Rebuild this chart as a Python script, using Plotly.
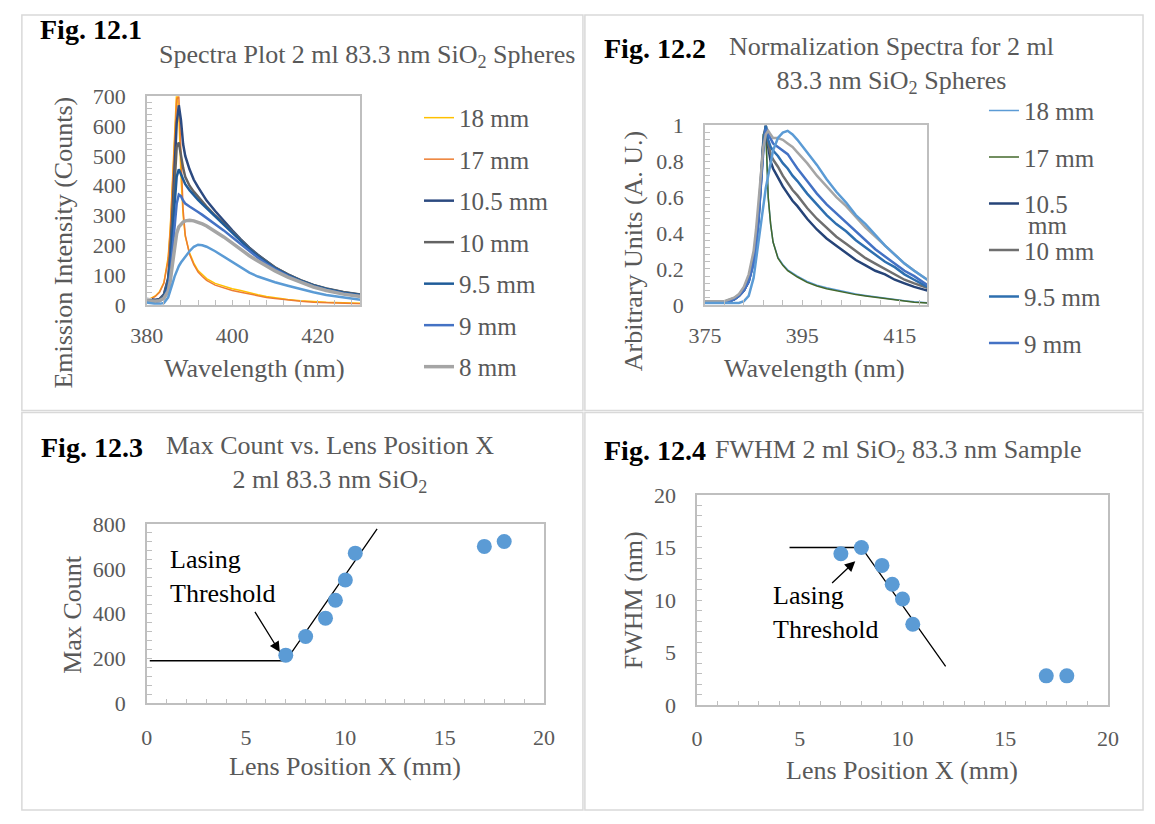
import plotly.graph_objects as go

FONT = "Liberation Serif"
GRAY_TXT = "#595959"

# ---------------- Fig 12.1 : spectra (counts) ----------------
W1 = [380, 381, 382, 383, 384, 385, 385.5, 386, 386.5, 387, 387.5, 388, 388.5, 389, 390, 391, 392, 393, 394,
      396, 398, 400, 402, 404, 406, 408, 410, 413, 416, 419, 422, 426, 430]
C_18 = [18, 22, 30, 45, 75, 160, 260, 420, 600, 722, 640, 430, 300, 230, 175, 140, 115, 100, 88,
        72, 62, 54, 48, 40, 34, 28, 23, 18, 14, 11, 9, 7, 5]
C_17 = [16, 20, 28, 42, 72, 150, 250, 400, 580, 690, 700, 470, 320, 235, 170, 135, 110, 95, 82,
        66, 56, 48, 42, 36, 30, 25, 21, 16, 12, 9, 7, 5, 4]
C_105 = [20, 18, 17, 20, 35, 90, 170, 300, 470, 610, 670, 620, 540, 500, 455, 420, 395, 370, 350,
         315, 282, 250, 220, 192, 168, 145, 125, 102, 82, 66, 54, 42, 34]
C_10 = [18, 16, 15, 18, 32, 85, 160, 280, 420, 530, 545, 500, 460, 430, 400, 380, 362, 345, 330,
        300, 272, 243, 215, 190, 166, 145, 126, 102, 83, 67, 55, 43, 35]
C_95 = [15, 14, 13, 15, 28, 75, 140, 240, 350, 430, 455, 440, 420, 405, 385, 368, 352, 338, 324,
        296, 268, 240, 212, 187, 163, 142, 123, 100, 81, 65, 53, 41, 33]
C_9 = [12, 11, 10, 12, 22, 55, 105, 180, 270, 340, 370, 365, 350, 340, 330, 322, 312, 302, 292,
       272, 250, 227, 203, 180, 158, 138, 120, 97, 78, 62, 50, 38, 30]
C_8 = [14, 13, 12, 14, 22, 45, 80, 135, 195, 240, 262, 272, 278, 282, 284, 282, 278, 272, 265,
       248, 228, 207, 185, 165, 147, 130, 114, 93, 75, 60, 48, 36, 28]
C_7 = [8, 5, 3, 3, 6, 25, 45, 70, 95, 115, 130, 142, 152, 162, 180, 195, 202, 200, 195,
       180, 162, 145, 127, 108, 95, 85, 76, 64, 52, 42, 33, 24, 17]

# ---------------- Fig 12.2 : normalized spectra ----------------
W2 = [375, 377, 379, 380, 381, 382, 383, 384, 385, 385.5, 386, 386.5, 387, 387.5, 388, 388.5, 389, 390,
      391, 392, 393, 394, 396, 398, 400, 402, 404, 406, 408, 410, 412, 414, 416, 418, 420, 420.7]
N_18 = [0.02, 0.02, 0.02, 0.03, 0.04, 0.055, 0.09, 0.14, 0.26, 0.36, 0.5, 0.7, 0.95, 0.98, 0.6, 0.45, 0.35, 0.265,
        0.225, 0.195, 0.175, 0.16, 0.13, 0.11, 0.095, 0.082, 0.07, 0.06, 0.052, 0.044, 0.036, 0.029, 0.023, 0.017, 0.012, 0.011]
N_17 = [0.02, 0.02, 0.02, 0.03, 0.04, 0.055, 0.09, 0.14, 0.26, 0.36, 0.5, 0.7, 0.95, 0.98, 0.6, 0.45, 0.35, 0.26,
        0.22, 0.19, 0.17, 0.155, 0.125, 0.105, 0.09, 0.078, 0.066, 0.057, 0.049, 0.041, 0.034, 0.027, 0.021, 0.015, 0.01, 0.01]
N_105 = [0.02, 0.02, 0.02, 0.02, 0.03, 0.05, 0.08, 0.13, 0.24, 0.33, 0.47, 0.66, 0.88, 1.0, 0.88, 0.8, 0.76, 0.71,
         0.66, 0.62, 0.58, 0.55, 0.48, 0.42, 0.37, 0.33, 0.29, 0.25, 0.22, 0.19, 0.17, 0.14, 0.12, 0.1, 0.085, 0.08]
N_10 = [0.02, 0.02, 0.02, 0.02, 0.03, 0.05, 0.08, 0.14, 0.26, 0.36, 0.5, 0.7, 0.92, 1.0, 0.9, 0.84, 0.81, 0.77,
        0.72, 0.68, 0.64, 0.61, 0.54, 0.48, 0.43, 0.38, 0.34, 0.3, 0.26, 0.23, 0.2, 0.17, 0.14, 0.12, 0.1, 0.095]
N_95 = [0.02, 0.02, 0.02, 0.02, 0.03, 0.05, 0.08, 0.13, 0.24, 0.34, 0.48, 0.68, 0.9, 1.0, 0.92, 0.88, 0.86, 0.83,
        0.79, 0.76, 0.72, 0.69, 0.62, 0.56, 0.5, 0.45, 0.41, 0.36, 0.32, 0.28, 0.24, 0.21, 0.17, 0.14, 0.11, 0.1]
N_9 = [0.02, 0.02, 0.02, 0.02, 0.03, 0.05, 0.08, 0.13, 0.23, 0.33, 0.47, 0.66, 0.86, 0.98, 0.95, 0.92, 0.9, 0.88,
       0.86, 0.84, 0.8, 0.76, 0.69, 0.62, 0.56, 0.51, 0.46, 0.41, 0.36, 0.31, 0.27, 0.23, 0.19, 0.16, 0.12, 0.11]
N_8 = [0.02, 0.02, 0.02, 0.03, 0.04, 0.06, 0.1, 0.17, 0.3, 0.42, 0.58, 0.75, 0.88, 0.95, 0.97, 0.95, 0.93, 0.93,
       0.92, 0.9, 0.88, 0.85, 0.79, 0.72, 0.66, 0.6, 0.55, 0.49, 0.43, 0.38, 0.33, 0.28, 0.23, 0.19, 0.15, 0.14]
N_7 = [0.01, 0.01, 0.01, 0.01, 0.01, 0.01, 0.02, 0.05, 0.15, 0.25, 0.36, 0.48, 0.58, 0.65, 0.72, 0.8, 0.86, 0.93,
       0.96, 0.97, 0.95, 0.92, 0.85, 0.78, 0.7, 0.63, 0.57, 0.5, 0.45, 0.39, 0.33, 0.28, 0.23, 0.19, 0.15, 0.14]

# ---------------- Fig 12.3 / 12.4 : lens position data ----------------
LENS_X = [7, 8, 9, 9.5, 10, 10.5, 17, 18]
MAX_COUNT = [215, 298, 380, 460, 550, 670, 700, 722]
FWHM = [14.4, 15.0, 13.3, 11.5, 10.1, 7.7, 2.8, 2.8]
FIT3_X = [0.15, 7, 11.6]
FIT3_Y = [190, 190, 778]
FIT4_X = [4.5, 8, 12.1]
FIT4_Y = [15, 15, 3.7]

W, H = 1155, 824
TITLE_SIZE = 26
LEG_SIZE = 25
TICK_SIZE = 22


def PX(x):
    return x / W


def PY(y):
    return 1 - y / H


fig = go.Figure()

series1 = [
    ("18 mm", C_18, "#FFC000", 1.5, True),
    ("17 mm", C_17, "#ED7D31", 1.5, True),
    ("10.5 mm", C_105, "#2C4A80", 2.5, True),
    ("10 mm", C_10, "#636363", 2.5, True),
    ("9.5 mm", C_95, "#1F5C99", 2.5, True),
    ("9 mm", C_9, "#4472C4", 2.5, True),
    ("8 mm", C_8, "#A5A5A5", 3.5, True),
    ("7 mm", C_7, "#5B9BD5", 2.5, False),
]
for i, (nm, vals, col, lw, sl) in enumerate(series1):
    fig.add_trace(go.Scatter(x=W1, y=vals, mode="lines", name=nm, line=dict(color=col, width=lw),
                             xaxis="x", yaxis="y", legend="legend", showlegend=sl,
                             legendgroup=("a%d" % i) if sl else None))

series2 = [
    ("18 mm", N_18, "#5B9BD5", 1.5, True),
    ("17 mm", N_17, "#43682B", 1.5, True),
    ("10.5", N_105, "#264478", 2.5, True),
    ("10 mm", N_10, "#6F6F6F", 2.5, True),
    ("9.5 mm", N_95, "#2E6FAF", 2.5, True),
    ("9 mm", N_9, "#4472C4", 2.5, True),
    ("8 mm", N_8, "#A5A5A5", 2.5, False),
    ("7 mm", N_7, "#5B9BD5", 2.5, False),
]
for i, (nm, vals, col, lw, sl) in enumerate(series2):
    fig.add_trace(go.Scatter(x=W2, y=vals, mode="lines", name=nm, line=dict(color=col, width=lw),
                             xaxis="x2", yaxis="y2", legend="legend2", showlegend=sl,
                             legendgroup=("b%d" % i) if sl else None))

# Fig 12.3
fig.add_trace(go.Scatter(x=FIT3_X, y=FIT3_Y, mode="lines", line=dict(color="black", width=1.3),
                         xaxis="x3", yaxis="y3", showlegend=False))
fig.add_trace(go.Scatter(x=LENS_X, y=MAX_COUNT, mode="markers", marker=dict(color="#5B9BD5", size=15),
                         xaxis="x3", yaxis="y3", showlegend=False))
# Fig 12.4
fig.add_trace(go.Scatter(x=FIT4_X, y=FIT4_Y, mode="lines", line=dict(color="black", width=1.3),
                         xaxis="x4", yaxis="y4", showlegend=False))
fig.add_trace(go.Scatter(x=LENS_X, y=FWHM, mode="markers", marker=dict(color="#5B9BD5", size=15),
                         xaxis="x4", yaxis="y4", showlegend=False))

AXC = "#BFBFBF"


def axis(domain, rng, dtick, mdtick, anchor, tick0=None, standoff=16):
    d = dict(domain=domain, range=rng, dtick=dtick, showline=True, linecolor=AXC, linewidth=1.5,
             mirror=True, ticks="inside", ticklen=5, tickwidth=1.2, tickcolor=AXC,
             minor=dict(dtick=mdtick, ticks="inside", ticklen=5, tickwidth=1.2, tickcolor=AXC, showgrid=False),
             showgrid=False, zeroline=False, anchor=anchor,
             tickfont=dict(family=FONT, size=TICK_SIZE, color=GRAY_TXT), ticklabelstandoff=standoff)
    if tick0 is not None:
        d["tick0"] = tick0
        d["minor"]["tick0"] = tick0
    return d


fig.update_layout(
    width=W, height=H, margin=dict(l=0, r=0, t=0, b=0),
    paper_bgcolor="white", plot_bgcolor="white",
    font=dict(family=FONT, color=GRAY_TXT),
    xaxis=axis([PX(133), PX(352)], [380, 430], 20, 4, "y", tick0=380, standoff=10),
    yaxis=axis([PY(302), PY(87)], [0, 700], 100, 20, "x", standoff=15),
    xaxis2=axis([PX(705), PX(933)], [375, 420.7], 20, 4, "y2", tick0=375, standoff=10),
    yaxis2=axis([PY(302), PY(117)], [0, 1], 0.2, 0.04, "x2", standoff=15),
    xaxis3=axis([PX(133), PX(540)], [0, 20], 5, 1, "y3", standoff=13),
    yaxis3=axis([PY(713), PY(528)], [0, 800], 200, 40, "x3", standoff=15),
    xaxis4=axis([PX(697), PX(1118)], [0, 20], 5, 1, "y4", standoff=13),
    yaxis4=axis([PY(715), PY(498)], [0, 20], 5, 1, "x4", standoff=15),
    legend=dict(x=PX(412), y=PY(85.5), xanchor="left", yanchor="top", tracegroupgap=6,
                font=dict(family=FONT, size=LEG_SIZE, color=GRAY_TXT), bgcolor="rgba(0,0,0,0)"),
    legend2=dict(x=PX(991), y=PY(78), xanchor="left", yanchor="top", tracegroupgap=11,
                 font=dict(family=FONT, size=LEG_SIZE, color=GRAY_TXT), bgcolor="rgba(0,0,0,0)"),
)

# panel frames
frames = [(5, 3, 580, 411), (582, 3, 1154, 411), (5, 413, 580, 823), (582, 413, 1154, 823)]
for x0, y0, x1, y1 in frames:
    fig.add_shape(type="rect", xref="paper", yref="paper", x0=PX(x0), x1=PX(x1), y0=PY(y1), y1=PY(y0),
                  line=dict(color="#D9D9D9", width=1.5), layer="below")


def ann(text, x, y, xanchor="left", size=TITLE_SIZE, color=GRAY_TXT, align="left", angle=0):
    fig.add_annotation(text=text, x=PX(x), y=PY(y), xref="paper", yref="paper", xanchor=xanchor,
                       yanchor="middle", showarrow=False, align=align, textangle=angle,
                       font=dict(family=FONT, size=size, color=color))


# titles
ann("<b>Fig. 12.1</b>", 22, 18, color="black", size=28)
ann("Spectra Plot 2 ml 83.3 nm SiO<sub>2</sub> Spheres", 143, 45)
ann("<b>Fig. 12.2</b>", 600, 38, color="black", size=28)
ann("Normalization Spectra for 2 ml<br>83.3 nm SiO<sub>2</sub> Spheres", 896, 55, xanchor="center", align="center")
ann("<b>Fig. 12.3</b>", 23, 449, color="black", size=28)
ann("Max Count vs. Lens Position X<br>2 ml 83.3 nm SiO<sub>2</sub>", 321, 466, xanchor="center", align="center")
ann("<b>Fig. 12.4</b>", 600, 452, color="black", size=28)
ann("FWHM 2 ml SiO<sub>2</sub> 83.3 nm Sample", 713, 453)

# axis titles
ann("Emission Intensity (Counts)", 48, 238, xanchor="center", angle=-90)
ann("Wavelength (nm)", 243, 368, xanchor="center")
ann("Arbitrary Units (A. U.)", 632, 247, xanchor="center", angle=-90)
ann("Wavelength (nm)", 817, 368, xanchor="center")
ann("Max Count", 57, 621, xanchor="center", angle=-90)
ann("Lens Position X (mm)", 336, 778, xanchor="center")
ann("FWHM (nm)", 632, 607, xanchor="center", angle=-90)
ann("Lens Position X (mm)", 907, 782, xanchor="center")

# legend wrap remainder (second line of the "10.5 mm" legend entry)
ann("mm", 1034, 220, size=LEG_SIZE)

# lasing threshold labels
ann("Lasing<br>Threshold", 155, 582, color="black")
ann("Lasing<br>Threshold", 773, 619, color="black")
fig.add_annotation(x=6.7, y=229, ax=5.4, ay=415, xref="x3", yref="y3", axref="x3", ayref="y3", text="",
                   showarrow=True, arrowhead=2, arrowsize=1.6, arrowwidth=1.3, arrowcolor="black")
fig.add_annotation(x=7.7, y=13.7, ax=6.5, ay=11.5, xref="x4", yref="y4", axref="x4", ayref="y4", text="",
                   showarrow=True, arrowhead=2, arrowsize=1.6, arrowwidth=1.3, arrowcolor="black")

fig.write_html("out.html", config={"displayModeBar": False},
               post_script="document.body.style.margin='0';document.body.style.overflow='hidden';")
